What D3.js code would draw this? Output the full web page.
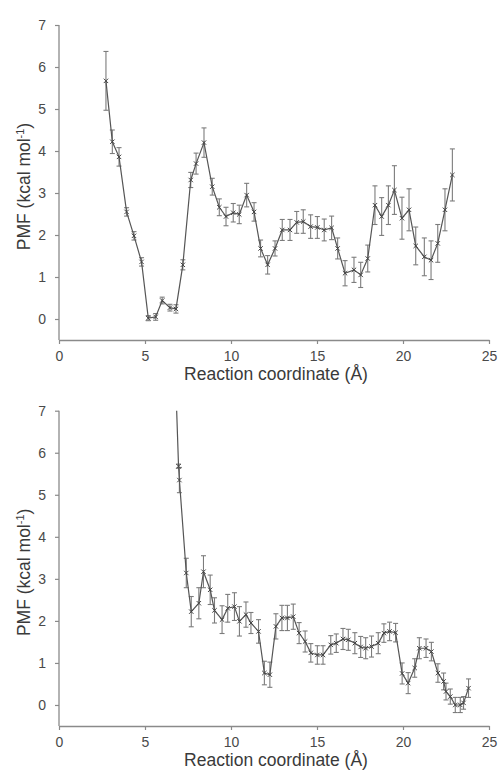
<!DOCTYPE html>
<html>
<head>
<meta charset="utf-8">
<script src="https://cdn.jsdelivr.net/npm/d3@7"></script>
<style>
  html, body { margin: 0; padding: 0; background: #fff; }
  svg { display: block; font-family: "Liberation Sans", Arial, sans-serif; }
</style>
</head>
<body>
<svg id="chart" width="499" height="771"></svg>
<script>
// Upper panel: PMF profile (kcal/mol) vs reaction coordinate (Å)
const topCoord = [2.73, 3.10, 3.49, 3.93, 4.36, 4.80, 5.19, 5.62, 6.00, 6.45, 6.80, 7.20, 7.66, 7.97, 8.43,
  8.91, 9.32, 9.71, 10.13, 10.48, 10.91, 11.34, 11.72, 12.13, 12.56, 12.98, 13.43, 13.82, 14.20, 14.63,
  15.02, 15.42, 15.85, 16.20, 16.63, 17.15, 17.54, 17.95, 18.37, 18.76, 19.15, 19.50, 19.94, 20.35,
  20.74, 21.24, 21.63, 22.02, 22.44, 22.87];
const topPMF = [5.67, 4.22, 3.86, 2.55, 1.98, 1.36, 0.02, 0.05, 0.44, 0.27, 0.24, 1.29, 3.31, 3.70, 4.20,
  3.15, 2.66, 2.44, 2.53, 2.49, 2.95, 2.55, 1.68, 1.29, 1.68, 2.12, 2.12, 2.30, 2.32, 2.20,
  2.18, 2.12, 2.17, 1.68, 1.09, 1.17, 1.05, 1.44, 2.71, 2.44, 2.71, 3.07, 2.40, 2.60,
  1.74, 1.48, 1.40, 1.80, 2.60, 3.43];
const topErr = [0.70, 0.28, 0.22, 0.10, 0.10, 0.10, 0.06, 0.08, 0.08, 0.08, 0.10, 0.12, 0.18, 0.25, 0.35,
  0.20, 0.20, 0.22, 0.22, 0.22, 0.28, 0.22, 0.20, 0.22, 0.18, 0.25, 0.25, 0.26, 0.28, 0.28,
  0.26, 0.26, 0.28, 0.25, 0.30, 0.30, 0.30, 0.32, 0.46, 0.45, 0.46, 0.58, 0.50, 0.50,
  0.45, 0.45, 0.46, 0.45, 0.50, 0.62];

// Lower panel: second PMF profile
const bottomCoord = [6.80, 6.95, 7.00, 7.40, 7.69, 8.13, 8.40, 8.79, 9.04, 9.48, 9.81, 10.20, 10.49, 10.87,
  11.16, 11.60, 11.94, 12.26, 12.61, 12.96, 13.28, 13.62, 13.96, 14.31, 14.64, 15.02, 15.35, 15.80,
  16.12, 16.51, 16.82, 17.20, 17.54, 17.83, 18.17, 18.56, 18.89, 19.22, 19.57, 19.95, 20.30, 20.68,
  20.95, 21.34, 21.65, 22.03, 22.36, 22.50, 22.75, 23.04, 23.33, 23.52, 23.81];
const bottomPMF = [7.50, 5.68, 5.35, 3.14, 2.22, 2.42, 3.17, 2.74, 2.25, 2.03, 2.30, 2.34, 1.99, 2.15,
  1.95, 1.75, 0.76, 0.72, 1.87, 2.07, 2.07, 2.10, 1.71, 1.51, 1.24, 1.19, 1.19, 1.43,
  1.47, 1.57, 1.55, 1.47, 1.38, 1.35, 1.39, 1.47, 1.71, 1.75, 1.72, 0.75, 0.52, 0.88,
  1.35, 1.35, 1.27, 0.76, 0.56, 0.32, 0.20, 0.00, 0.00, 0.05, 0.40];
const bottomErr = [0.00, 0.05, 0.30, 0.35, 0.36, 0.37, 0.38, 0.35, 0.30, 0.33, 0.33, 0.33, 0.35, 0.30,
  0.25, 0.28, 0.28, 0.30, 0.30, 0.30, 0.30, 0.30, 0.25, 0.25, 0.22, 0.22, 0.22, 0.22,
  0.22, 0.25, 0.25, 0.25, 0.25, 0.25, 0.25, 0.25, 0.22, 0.22, 0.22, 0.25, 0.25, 0.22,
  0.25, 0.22, 0.22, 0.22, 0.20, 0.20, 0.18, 0.18, 0.18, 0.15, 0.22];

const xTicks = [0, 5, 10, 15, 20, 25];
const yTicks = [0, 1, 2, 3, 4, 5, 6, 7];
const xTitle = "Reaction coordinate (Å)";

const svg = d3.select("#chart");

function drawPanel(id, coord, pmf, err, top, bottom) {
  const left = 59, right = 489;
  const x = d3.scaleLinear().domain([0, 25]).range([left, right]);
  const y = d3.scaleLinear().domain([-0.5, 7]).range([bottom, top]);
  const g = svg.append("g");

  // clip region for the plotted curve
  svg.append("clipPath").attr("id", "clip-" + id)
    .append("rect").attr("x", left).attr("y", top).attr("width", right - left).attr("height", bottom - top);

  const xAxis = g.append("g").attr("transform", `translate(0,${bottom})`)
    .call(d3.axisBottom(x).tickValues(xTicks).tickSize(4).tickPadding(7).tickSizeOuter(0));
  const yAxis = g.append("g").attr("transform", `translate(${left},0)`)
    .call(d3.axisLeft(y).tickValues(yTicks).tickSize(4).tickPadding(9).tickSizeOuter(0));

  [xAxis, yAxis].forEach(a => {
    a.select(".domain").attr("stroke", "#8a8a8a").attr("stroke-width", 1.3);
    a.selectAll(".tick line").attr("stroke", "#8a8a8a").attr("stroke-width", 1.2);
    a.selectAll(".tick text").attr("fill", "#4a4a4a").style("font-size", "14px");
  });

  // y-axis domain must span up to 7 and down to -0.5
  yAxis.select(".domain").attr("d", `M0,${y(7)}V${y(-0.5)}`);

  g.append("text")
    .attr("x", (left + right) / 2 + 2).attr("y", bottom + 40)
    .attr("text-anchor", "middle").attr("fill", "#3a3a3a").style("font-size", "17.5px")
    .text(xTitle);

  const yl = g.append("text")
    .attr("transform", `translate(30,${(y(7) + y(-0.5)) / 2 + 4}) rotate(-90)`)
    .attr("text-anchor", "middle").attr("fill", "#3a3a3a").style("font-size", "17.5px");
  yl.append("tspan").text("PMF (kcal mol");
  yl.append("tspan").attr("baseline-shift", "super").style("font-size", "11px").text("-1");
  yl.append("tspan").text(")");

  const data = coord.map((c, i) => ({ c, v: pmf[i], e: err[i] }));
  const plot = g.append("g").attr("clip-path", `url(#clip-${id})`);

  // error bars with caps
  const eb = plot.append("g").attr("stroke", "#666").attr("stroke-width", 1.1).attr("opacity", 0.85);
  data.filter(d => d.e > 0).forEach(d => {
    const cx = x(d.c), y1 = y(d.v + d.e), y2 = y(d.v - d.e);
    eb.append("line").attr("x1", cx).attr("x2", cx).attr("y1", y1).attr("y2", y2);
    eb.append("line").attr("x1", cx - 2.5).attr("x2", cx + 2.5).attr("y1", y1).attr("y2", y1);
    eb.append("line").attr("x1", cx - 2.5).attr("x2", cx + 2.5).attr("y1", y2).attr("y2", y2);
  });

  // profile line
  plot.append("path").datum(data)
    .attr("fill", "none").attr("stroke", "#555").attr("stroke-width", 1.2)
    .attr("d", d3.line().x(d => x(d.c)).y(d => y(d.v)));

  // x-shaped point markers
  const mk = plot.append("g").attr("stroke", "#444").attr("stroke-width", 1);
  data.forEach(d => {
    const cx = x(d.c), cy = y(d.v), s = 2.2;
    mk.append("path").attr("d", `M${cx - s},${cy - s}L${cx + s},${cy + s}M${cx - s},${cy + s}L${cx + s},${cy - s}`);
  });
}

drawPanel("top", topCoord, topPMF, topErr, 25, 340);
drawPanel("bottom", bottomCoord, bottomPMF, bottomErr, 410.7, 726);
</script>
</body>
</html>
